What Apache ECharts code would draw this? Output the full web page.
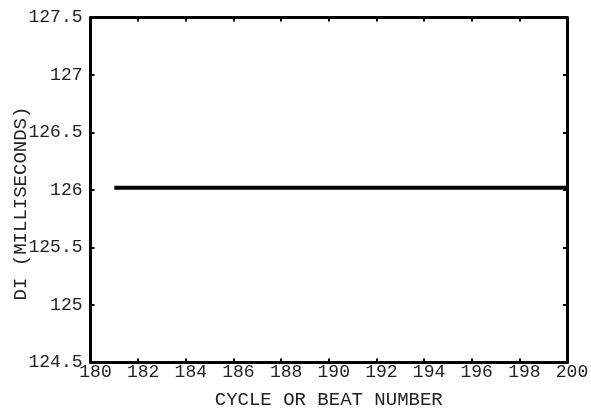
<!DOCTYPE html>
<html><head><meta charset="utf-8">
<script src="https://cdn.jsdelivr.net/npm/echarts@6/dist/echarts.min.js"></script>
<style>html,body{margin:0;padding:0;background:#fff}#c{width:591px;height:415px}</style>
</head><body><div id="c"></div>
<script>
var beats = [181,182,183,184,185,186,187,188,189,190,191,192,193,194,195,196,197,198,199,200];
var diValues = [126.02,126.02,126.02,126.02,126.02,126.02,126.02,126.02,126.02,126.02,126.02,126.02,126.02,126.02,126.02,126.02,126.02,126.02,126.02,126.02];
var xTitle = 'CYCLE OR BEAT NUMBER';
var yTitle = 'DI (MILLISECONDS)';

var font = "'Liberation Mono','Courier New',monospace";
var axisLine = {show:true, onZero:false, lineStyle:{color:'#000', width:3}};
var tick = {show:true, inside:true, length:4, lineStyle:{color:'#000', width:2}};
var chart = echarts.init(document.getElementById('c'));
chart.setOption({
  animation:false,
  backgroundColor:'#fff',
  grid:{left:90.5, right:24, top:17.5, bottom:52.5, containLabel:false, outerBoundsMode:'none'},
  xAxis:[{
    type:'value', min:180, max:200, interval:2, position:'bottom',
    name:xTitle, nameLocation:'middle', nameGap:28, nameMoveOverlap:false,
    nameTextStyle:{fontFamily:font, fontSize:19, color:'#222'},
    axisLine:axisLine, axisTick:tick, splitLine:{show:false},
    axisLabel:{fontFamily:font, fontSize:18, color:'#222', margin:1, padding:[0,0,0,10]}
  },{
    type:'value', min:180, max:200, interval:2, position:'top',
    axisLine:axisLine, axisTick:tick, splitLine:{show:false}, axisLabel:{show:false}
  }],
  yAxis:[{
    type:'value', min:124.5, max:127.5, interval:0.5, position:'left',
    name:yTitle, nameLocation:'middle', nameGap:60, nameMoveOverlap:false,
    nameTextStyle:{fontFamily:font, fontSize:19, color:'#222', padding:[0,27,0,0]},
    axisLine:axisLine, axisTick:tick, splitLine:{show:false},
    axisLabel:{fontFamily:font, fontSize:18, color:'#222', margin:8}
  },{
    type:'value', min:124.5, max:127.5, interval:0.5, position:'right',
    axisLine:axisLine, axisTick:tick, splitLine:{show:false}, axisLabel:{show:false}
  }],
  series:[{
    type:'line', xAxisIndex:0, yAxisIndex:0,
    data: beats.map(function(b,i){return [b, diValues[i]];}),
    showSymbol:false, symbol:'none',
    lineStyle:{color:'#000', width:4}
  }]
});
</script></body></html>
